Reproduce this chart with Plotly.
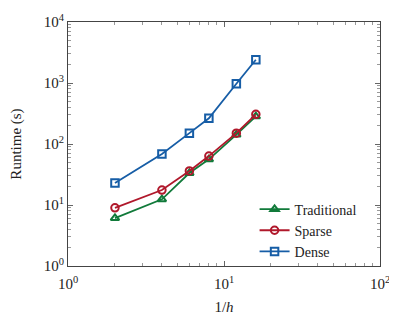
import plotly.graph_objects as go

x_vals = [2, 4, 6, 8, 12, 16]
traditional = [6.1, 12.4, 33.4, 56.1, 142, 283]
sparse = [9.0, 17.6, 36.2, 63.4, 150.6, 307]
dense = [23, 68.8, 150.6, 264, 972, 2404]

series_names = ["Traditional", "Sparse", "Dense"]
series_colors = ["#117a3a", "#b0182b", "#165da6"]
series_symbols = ["triangle-up-open", "circle-open", "square-open"]

x_tick_vals = [1, 10, 100]
x_tick_text = ["10<sup>0</sup>", "10<sup>1</sup>", "10<sup>2</sup>"]
y_tick_vals = [1, 10, 100, 1000, 10000]
y_tick_text = ["10<sup>0</sup>", "10<sup>1</sup>", "10<sup>2</sup>", "10<sup>3</sup>", "10<sup>4</sup>"]

FONT = "Liberation Serif"

fig = go.Figure()
for name, ys, col, sym in zip(series_names, [traditional, sparse, dense], series_colors, series_symbols):
    fig.add_trace(go.Scatter(
        x=x_vals, y=ys, name=name, mode="lines+markers",
        line=dict(color=col, width=1.8),
        marker=dict(symbol=sym, size=7.5, color=col, line=dict(color=col, width=2)),
    ))

x_minor = [m * 10 ** e for e in range(0, 2) for m in range(2, 10)]
y_minor = [m * 10 ** e for e in range(0, 4) for m in range(2, 10)]

axis_common = dict(
    type="log", showgrid=False, zeroline=False,
    showline=True, linecolor="#444", linewidth=1, mirror="allticks",
    ticks="inside", ticklen=5, tickcolor="#666", tickwidth=0.8,
    tickfont=dict(family=FONT, size=15, color="#222"),
    ticklabeloverflow="allow",
)

fig.update_xaxes(
    **axis_common, range=[0, 2], tickvals=x_tick_vals, ticktext=x_tick_text,
    ticklabelstandoff=4,
    minor=dict(tickvals=x_minor, ticks="inside", ticklen=3, tickcolor="#999", tickwidth=0.6),
    title=dict(text="1/<i>h</i>", font=dict(family=FONT, size=15, color="#222"), standoff=10),
)
fig.update_yaxes(
    **axis_common, range=[0, 4], tickvals=y_tick_vals, ticktext=y_tick_text,
    minor=dict(tickvals=y_minor, ticks="inside", ticklen=3, tickcolor="#999", tickwidth=0.6),
    title=dict(text="Runtime (s)", font=dict(family=FONT, size=15, color="#222"), standoff=21),
)

# page body has an 8px margin; size the figure to fit the visible window
fig.update_layout(
    width=389, height=309,
    margin=dict(l=60, r=17, t=4, b=46),
    paper_bgcolor="white", plot_bgcolor="white",
    showlegend=True,
    legend=dict(
        x=0.598, y=-0.006, xanchor="left", yanchor="bottom",
        bgcolor="rgba(255,255,255,0)", borderwidth=0,
        font=dict(family=FONT, size=14, color="#222"),
        itemwidth=30, tracegroupgap=0,
    ),
)

fig.write_html("out.html")
